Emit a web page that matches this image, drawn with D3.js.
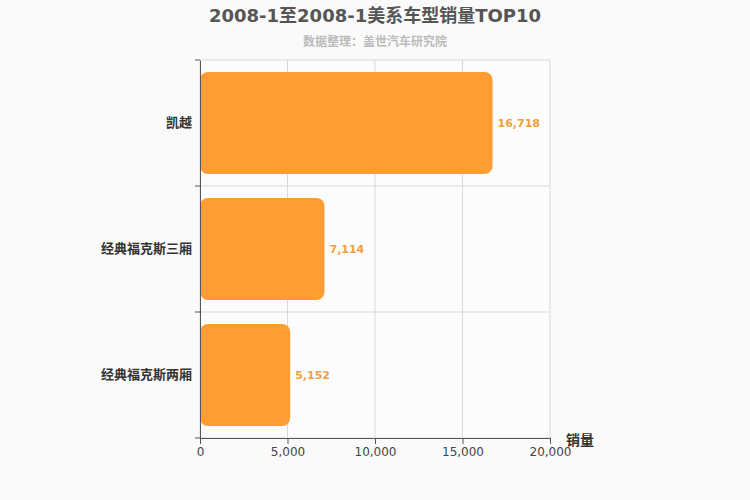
<!DOCTYPE html>
<html><head><meta charset="utf-8">
<script src="https://cdn.jsdelivr.net/npm/d3@7"></script>
<style>body{margin:0;background:#fafafa}svg{display:block;font-family:"DejaVu Sans","Noto Sans CJK SC",sans-serif}</style>
</head><body><svg width="750" height="500"></svg>
<script>
const categories = ["凯越","经典福克斯三厢","经典福克斯两厢"];
const values = [16718, 7114, 5152];
const xTicks = [0,5000,10000,15000,20000];
const title = "2008-1至2008-1美系车型销量TOP10";
const subtitle = "数据整理：盖世汽车研究院";

const svg = d3.select("svg");
const m = {l:200, r:550, t:60, b:438};
const x = d3.scaleLinear().domain([0,20000]).range([m.l,m.r]);
const y = d3.scaleBand().domain(categories).range([m.t,m.b]).paddingInner(0.19).paddingOuter(0.095);
const yb = d3.scaleBand().domain(categories).range([m.t,m.b]);

svg.append("rect").attr("x",m.l).attr("y",m.t).attr("width",m.r-m.l).attr("height",m.b-m.t).attr("fill","#fcfcfc");
const g = svg.append("g");
xTicks.forEach(t=>g.append("line").attr("x1",x(t)).attr("x2",x(t)).attr("y1",m.t).attr("y2",m.b).attr("stroke","#d8d8d8"));
[m.t, ...categories.map(c=>yb(c)+yb.bandwidth())].forEach(v=>g.append("line").attr("x1",m.l).attr("x2",m.r).attr("y1",v).attr("y2",v).attr("stroke","#d8d8d8"));

svg.selectAll(".bar").data(values).join("rect")
 .attr("x",x(0)).attr("y",(d,i)=>y(categories[i])).attr("width",d=>x(d)-x(0)).attr("height",y.bandwidth())
 .attr("rx",8).attr("fill","#ff9c33");
svg.selectAll(".val").data(values).join("text")
 .attr("x",d=>x(d)+5).attr("y",(d,i)=>y(categories[i])+y.bandwidth()/2).attr("dy","0.35em")
 .attr("fill","#f0a040").attr("font-size",11).attr("font-weight","bold").text(d=>d3.format(",")(d));

const xa = svg.append("g").attr("transform",`translate(0,${m.b})`).call(d3.axisBottom(x).tickValues(xTicks).tickFormat(d3.format(",")).tickSizeOuter(0));
xa.select(".domain").attr("stroke","#555");
xa.selectAll("line").attr("stroke","#555");
xa.selectAll("text").attr("fill","#444").attr("font-size",12).attr("font-family","DejaVu Sans");
const ya = svg.append("g").attr("transform",`translate(${m.l},0)`).call(d3.axisLeft(yb).tickSize(0).tickPadding(8));
ya.select(".domain").attr("stroke","#555");
ya.selectAll("text").attr("fill","#333").attr("font-size",13).attr("font-weight","bold").attr("font-family","Noto Sans CJK SC");
[m.t, ...categories.map(c=>yb(c)+yb.bandwidth())].forEach(v=>svg.append("line").attr("x1",m.l-5).attr("x2",m.l).attr("y1",v).attr("y2",v).attr("stroke","#555"));

svg.append("text").attr("x",580).attr("y",445).attr("text-anchor","middle").attr("font-size",14).attr("font-weight","bold").attr("fill","#333").attr("font-family","Noto Sans CJK SC").text("销量");
svg.append("text").attr("x",375).attr("y",22).attr("text-anchor","middle").attr("font-size",18).attr("font-weight","bold").attr("fill","#555").text(title);
svg.append("text").attr("x",375).attr("y",46).attr("text-anchor","middle").attr("font-size",12).attr("font-weight","bold").attr("fill","#bbb").attr("font-family","Noto Sans CJK SC").text(subtitle);
</script></body></html>
